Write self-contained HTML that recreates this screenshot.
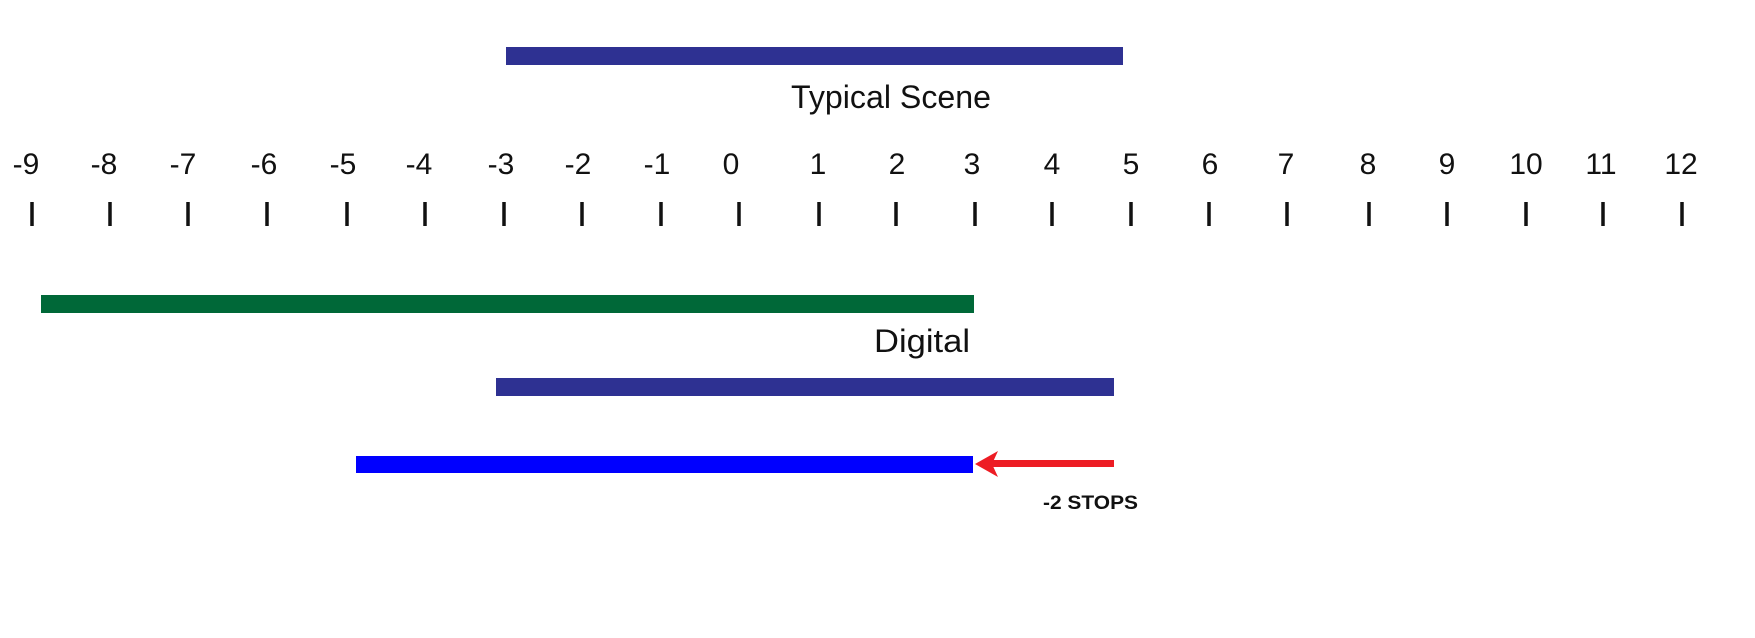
<!DOCTYPE html>
<html><head><meta charset="utf-8"><style>html,body{margin:0;padding:0;background:#fff}svg{display:block}</style></head>
<body>
<svg width="1755" height="638" viewBox="0 0 1755 638" xmlns="http://www.w3.org/2000/svg" font-family="Liberation Sans, sans-serif">
<rect x="0" y="0" width="1755" height="638" fill="#fff"/>
<rect x="506" y="47" width="617" height="18" fill="#2e3192"/>
<text x="791" y="108" font-size="32" fill="#111" textLength="200" lengthAdjust="spacingAndGlyphs">Typical Scene</text>
<g font-size="30" fill="#111" text-anchor="middle">
<text x="26" y="174">-9</text><text x="104" y="174">-8</text><text x="183" y="174">-7</text><text x="264" y="174">-6</text><text x="343" y="174">-5</text><text x="419" y="174">-4</text><text x="501" y="174">-3</text><text x="578" y="174">-2</text><text x="657" y="174">-1</text><text x="731" y="174">0</text><text x="818" y="174">1</text><text x="897" y="174">2</text><text x="972" y="174">3</text><text x="1052" y="174">4</text><text x="1131" y="174">5</text><text x="1210" y="174">6</text><text x="1286" y="174">7</text><text x="1368" y="174">8</text><text x="1447" y="174">9</text><text x="1526" y="174">10</text><text x="1601" y="174">11</text><text x="1681" y="174">12</text>
</g>
<g stroke="#111" stroke-width="3.5">
<line x1="32" y1="202" x2="32" y2="226"/><line x1="110" y1="202" x2="110" y2="226"/><line x1="188" y1="202" x2="188" y2="226"/><line x1="267" y1="202" x2="267" y2="226"/><line x1="347" y1="202" x2="347" y2="226"/><line x1="425" y1="202" x2="425" y2="226"/><line x1="504" y1="202" x2="504" y2="226"/><line x1="582" y1="202" x2="582" y2="226"/><line x1="661" y1="202" x2="661" y2="226"/><line x1="739" y1="202" x2="739" y2="226"/><line x1="819" y1="202" x2="819" y2="226"/><line x1="896" y1="202" x2="896" y2="226"/><line x1="975" y1="202" x2="975" y2="226"/><line x1="1052" y1="202" x2="1052" y2="226"/><line x1="1131" y1="202" x2="1131" y2="226"/><line x1="1209" y1="202" x2="1209" y2="226"/><line x1="1287" y1="202" x2="1287" y2="226"/><line x1="1369" y1="202" x2="1369" y2="226"/><line x1="1447" y1="202" x2="1447" y2="226"/><line x1="1526" y1="202" x2="1526" y2="226"/><line x1="1603" y1="202" x2="1603" y2="226"/><line x1="1682" y1="202" x2="1682" y2="226"/>
</g>
<rect x="41" y="295" width="933" height="18" fill="#006838"/>
<text x="874" y="352" font-size="32" fill="#111" textLength="96" lengthAdjust="spacingAndGlyphs">Digital</text>
<rect x="496" y="378" width="618" height="18" fill="#2e3192"/>
<rect x="356" y="456" width="617" height="17" fill="#0000ff"/>
<rect x="990" y="460" width="124" height="7" fill="#ed1c24"/>
<path d="M975 464 L998 451 L992 464 L998 477 Z" fill="#ed1c24"/>
<text x="1043" y="509" font-size="19" font-weight="bold" fill="#111" textLength="95" lengthAdjust="spacingAndGlyphs">-2 STOPS</text>
</svg>
</body></html>
